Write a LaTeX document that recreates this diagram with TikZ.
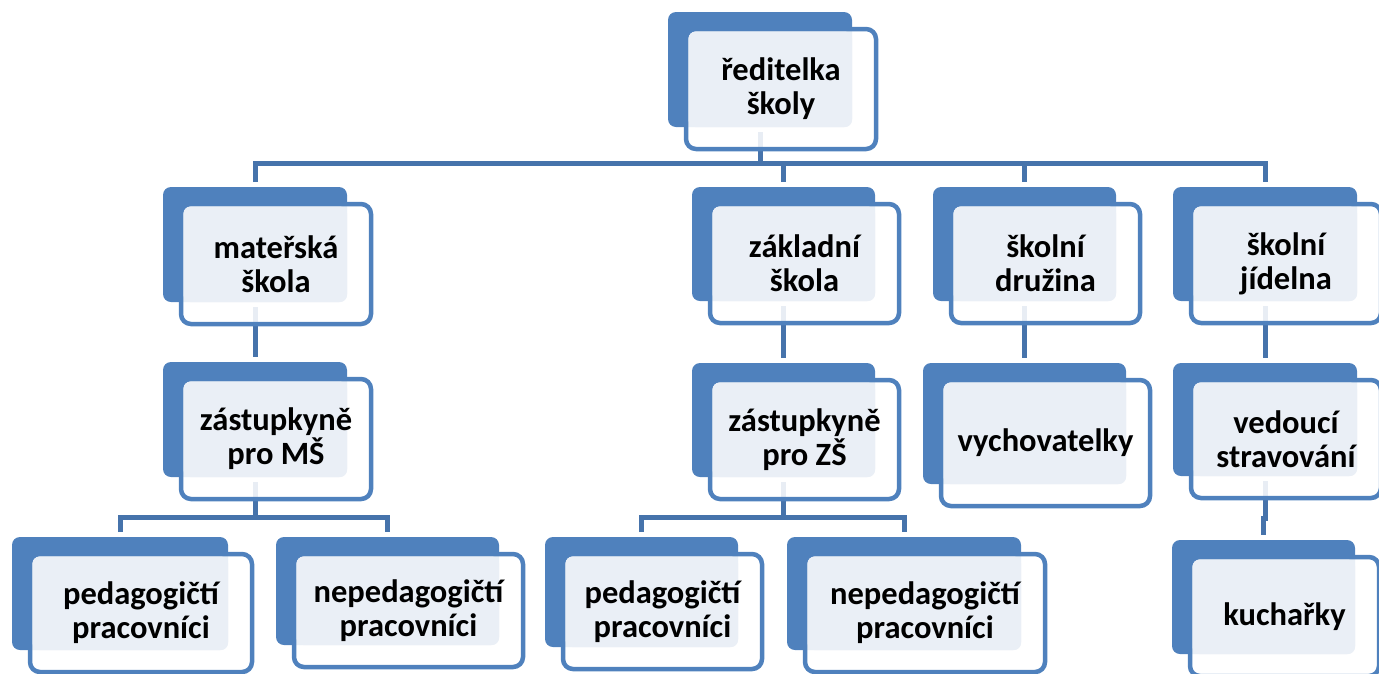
\documentclass[tikz,border=0pt]{standalone}
\usepackage{fontspec}
\setmainfont{Carlito}
\usetikzlibrary{backgrounds}
\definecolor{boxblue}{HTML}{4F81BD}
\definecolor{lineblue}{HTML}{4673AB}
\definecolor{lightfill}{HTML}{EAEFF6}
\tikzset{
 backbox/.style={draw=none, fill=boxblue, rounded corners=8pt, inner sep=0pt, outer sep=0pt},
 frontbox/.style={draw=boxblue, line width=4.5pt, fill=white, fill opacity=0.88, rounded corners=10pt, inner sep=0pt, outer sep=0pt},
 lightbox/.style={fill=lightfill, rounded corners=7pt},
 txt/.style={font=\fontsize{32.5}{34}\selectfont\bfseries, align=center, inner sep=0pt, text=black},
 conn/.style={draw=lineblue, line width=5pt},
}
\newcommand\orgnode[6]{%
 \node[backbox, minimum width={#4-#2}, minimum height={#5-#3}] (#1) at ({(#2+#4)/2},{(#3+#5)/2}) {};
 \node[frontbox, minimum width={#4-#2+6}, minimum height={#5-#3+5}] (#1f) at ({(#2+#4)/2+21},{(#3+#5)/2+19.5}) {};
 \path[lightbox] (#2+20.5,#3+19.5) rectangle (#4,#5);
 \node[txt] (#1t) at (#1f.center) {#6};
}
\begin{document}
\begin{tikzpicture}[x=1pt,y=-1pt]
\useasboundingbox (0,0) rectangle (1379,673);
\orgnode{top}{668}{12}{852}{127}{ředitelka\\školy}
\orgnode{ms}{163}{187}{347}{302}{mateřská\\škola}
\orgnode{zs}{692}{187}{875}{301}{základní\\škola}
\orgnode{dr}{933}{187}{1116}{301}{školní\\družina}
\orgnode{jid}{1173}{187}{1357}{301}{školní\\jídelna}
\orgnode{zms}{163}{362}{347}{477}{zástupkyně\\pro MŠ}
\orgnode{zzs}{692}{363}{875}{477}{zástupkyně\\pro ZŠ}
\orgnode{vych}{923}{363}{1126}{484}{vychovatelky}
\orgnode{ved}{1173}{363}{1357}{476}{vedoucí\\stravování}
\orgnode{pms}{12}{537}{228}{650}{pedagogičtí\\pracovníci}
\orgnode{npms}{276}{537}{499}{645}{nepedagogičtí\\pracovníci}
\orgnode{pzs}{545}{537}{738}{647}{pedagogičtí\\pracovníci}
\orgnode{npzs}{787}{537}{1021}{650}{nepedagogičtí\\pracovníci}
\orgnode{kuch}{1172}{540}{1355}{654}{kuchařky}
\coordinate (bus1) at (0,163);
\coordinate (busms) at (0,517);
\coordinate (buszs) at (0,517);
\begin{pgfonlayer}{background}
\draw[conn] ([yshift=-5pt]top.south) -- (top.south |- bus1);
\draw[conn] ([yshift=5pt]ms.north) -- (ms.north |- bus1) -- (jid.north |- bus1) -- ([yshift=5pt]jid.north);
\draw[conn] (zs.north |- bus1) -- ([yshift=5pt]zs.north);
\draw[conn] (dr.north |- bus1) -- ([yshift=5pt]dr.north);
\draw[conn, shorten <=5pt, shorten >=5pt] (ms.south) -- (zms.north);
\draw[conn, shorten <=5pt, shorten >=5pt] (zs.south) -- (zzs.north);
\draw[conn, shorten <=5pt, shorten >=5pt] (dr.south) -- (vych.north);
\draw[conn, shorten <=5pt, shorten >=5pt] (jid.south) -- (ved.north);
\draw[conn] ([yshift=-5pt]ved.south) -- ++(0,37) -| ([yshift=5pt]kuch.north);
\draw[conn] ([yshift=-5pt]zms.south) -- (zms.south |- busms);
\draw[conn] ([yshift=5pt]pms.north) -- (pms.north |- busms) -- (npms.north |- busms) -- ([yshift=5pt]npms.north);
\draw[conn] ([yshift=-5pt]zzs.south) -- (zzs.south |- buszs);
\draw[conn] ([yshift=5pt]pzs.north) -- (pzs.north |- buszs) -- (npzs.north |- buszs) -- ([yshift=5pt]npzs.north);
\end{pgfonlayer}
\end{tikzpicture}
\end{document}
